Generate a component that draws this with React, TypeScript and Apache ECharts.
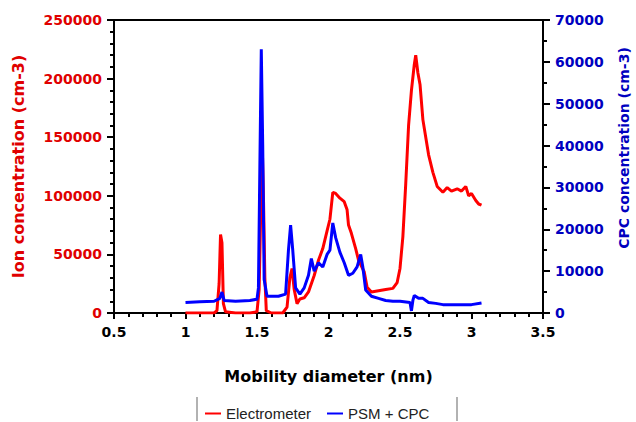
import React, { useEffect, useRef } from "react";
import * as echarts from "echarts";

const elecX = [1.0, 1.1, 1.2, 1.22, 1.235, 1.245, 1.255, 1.265, 1.28, 1.35, 1.45, 1.5, 1.515, 1.525, 1.535, 1.545, 1.555, 1.565, 1.6, 1.68, 1.71, 1.73, 1.745, 1.76, 1.78, 1.8, 1.83, 1.86, 1.9, 1.93, 1.96, 1.99, 2.01, 2.03, 2.05, 2.08, 2.11, 2.13, 2.14, 2.16, 2.19, 2.21, 2.23, 2.25, 2.27, 2.3, 2.35, 2.4, 2.45, 2.48, 2.5, 2.52, 2.54, 2.56, 2.58, 2.6, 2.61, 2.625, 2.64, 2.66, 2.68, 2.7, 2.73, 2.76, 2.8, 2.83, 2.86, 2.9, 2.93, 2.96, 2.98, 3.0, 3.03, 3.05, 3.07];
const elecY = [0, 0, 0, 2000, 25000, 67000, 60000, 8000, 1000, 0, 0, 1000, 20000, 80000, 152000, 100000, 30000, 2000, 0, 0, 5000, 30000, 38000, 20000, 8000, 12000, 13000, 18000, 32000, 45000, 55000, 70000, 80000, 103000, 102000, 98000, 95000, 88000, 75000, 68000, 55000, 45000, 40000, 35000, 22000, 18000, 19000, 20000, 21000, 26000, 38000, 65000, 110000, 160000, 190000, 212000, 220000, 205000, 195000, 165000, 150000, 135000, 120000, 108000, 103000, 107000, 104000, 106000, 104000, 108000, 100000, 102000, 96000, 93000, 92000];

const cpcX = [1.0, 1.1, 1.2, 1.24, 1.255, 1.27, 1.35, 1.45, 1.5, 1.51, 1.52, 1.53, 1.54, 1.55, 1.57, 1.65, 1.7, 1.72, 1.735, 1.75, 1.77, 1.8, 1.83, 1.86, 1.88, 1.9, 1.93, 1.96, 1.99, 2.01, 2.03, 2.05, 2.08, 2.11, 2.14, 2.17, 2.2, 2.225, 2.24, 2.26, 2.3, 2.35, 2.4, 2.45, 2.5, 2.57, 2.58, 2.59, 2.6, 2.63, 2.66, 2.7, 2.75, 2.8, 2.9, 3.0, 3.07];
const cpcY = [2500, 2700, 2800, 3500, 5000, 3000, 2800, 3000, 3300, 6000, 35000, 63000, 40000, 8000, 4000, 4000, 4500, 15000, 21000, 15000, 6000, 4500, 6000, 9000, 13000, 10000, 12000, 11000, 14000, 15000, 21500, 18000, 14500, 12000, 9000, 9500, 11000, 14000, 11000, 5500, 4000, 3500, 3000, 2800, 2800, 2500, 500, 3000, 4200, 3500, 3500, 2500, 2300, 2000, 2000, 2000, 2400];

const seriesNames = ["Electrometer", "PSM + CPC"];
const xTitle = "Mobility diameter (nm)";
const leftTitle = "Ion concentration (cm-3)";
const rightTitle = "CPC concentration (cm-3)";

const FONT = "DejaVu Sans";

export default function App() {
  const ref = useRef<HTMLDivElement>(null);
  useEffect(() => {
    if (!ref.current) return;
    const chart = echarts.init(ref.current, undefined, { renderer: "svg" });
    const axisLine = { show: true, lineStyle: { color: "#000", width: 2 } };
    const plain = (v: number) => String(v);
    chart.setOption({
      animation: false,
      backgroundColor: "#fff",
      grid: {
        left: 114,
        right: 93,
        top: 20,
        bottom: 109,
        show: true,
        borderColor: "#000",
        borderWidth: 2,
      },
      legend: {
        data: seriesNames,
        left: 200,
        top: 401,
        icon: "rect",
        itemWidth: 16,
        itemHeight: 2,
        itemGap: 16,
        textStyle: { fontFamily: "Liberation Sans", fontSize: 15, color: "#222" },
      },
      graphic: [
        { type: "line", shape: { x1: 197, y1: 397, x2: 197, y2: 421 }, style: { stroke: "#999", lineWidth: 1.5 } },
        { type: "line", shape: { x1: 457, y1: 397, x2: 457, y2: 421 }, style: { stroke: "#999", lineWidth: 1.5 } },
        {
          type: "text",
          x: 624,
          y: 148,
          rotation: Math.PI / 2,
          style: {
            text: rightTitle,
            fill: "#0000c0",
            font: "bold 14px 'DejaVu Sans'",
            align: "center",
            verticalAlign: "middle",
          },
        },
      ],
      xAxis: {
        type: "value",
        min: 0.5,
        max: 3.5,
        interval: 0.5,
        name: xTitle,
        nameLocation: "middle",
        nameGap: 55,
        nameTextStyle: { fontFamily: FONT, fontWeight: "bold", fontSize: 16, color: "#000" },
        axisLine,
        axisTick: { show: true, length: 6, lineStyle: { color: "#000", width: 2 } },
        minorTick: { show: true, splitNumber: 5, length: 4, lineStyle: { color: "#000", width: 2 } },
        splitLine: { show: false },
        axisLabel: { fontFamily: FONT, fontWeight: "bold", fontSize: 14, color: "#000", margin: 12, formatter: plain },
      },
      yAxis: [
        {
          type: "value",
          min: 0,
          max: 250000,
          interval: 50000,
          position: "left",
          name: leftTitle,
          nameLocation: "middle",
          nameGap: 88,
          nameTextStyle: { fontFamily: FONT, fontWeight: "bold", fontSize: 16, color: "#e00000" },
          axisLine,
          axisTick: { show: true, length: 7, lineStyle: { color: "#000", width: 2 } },
          minorTick: { show: true, splitNumber: 5, length: 4, lineStyle: { color: "#000", width: 2 } },
          splitLine: { show: false },
          axisLabel: { fontFamily: FONT, fontWeight: "bold", fontSize: 14, color: "#e00000", margin: 12, formatter: plain },
        },
        {
          type: "value",
          min: 0,
          max: 70000,
          interval: 10000,
          position: "right",
          axisLine,
          axisTick: { show: true, length: 7, lineStyle: { color: "#000", width: 2 } },
          minorTick: { show: true, splitNumber: 2, length: 4, lineStyle: { color: "#000", width: 2 } },
          splitLine: { show: false },
          axisLabel: { fontFamily: FONT, fontWeight: "bold", fontSize: 14, color: "#0000c0", margin: 12, formatter: plain },
        },
      ],
      series: [
        {
          name: seriesNames[0],
          type: "line",
          yAxisIndex: 0,
          showSymbol: false,
          color: "#ff0000",
          lineStyle: { color: "#ff0000", width: 3 },
          data: elecX.map((x, i) => [x, elecY[i]]),
        },
        {
          name: seriesNames[1],
          type: "line",
          yAxisIndex: 1,
          showSymbol: false,
          color: "#0000ff",
          lineStyle: { color: "#0000ff", width: 3 },
          data: cpcX.map((x, i) => [x, cpcY[i]]),
        },
      ],
    });
    return () => chart.dispose();
  }, []);
  return <div ref={ref} style={{ width: 636, height: 422, position: "absolute", left: 0, top: 0 }} />;
}
